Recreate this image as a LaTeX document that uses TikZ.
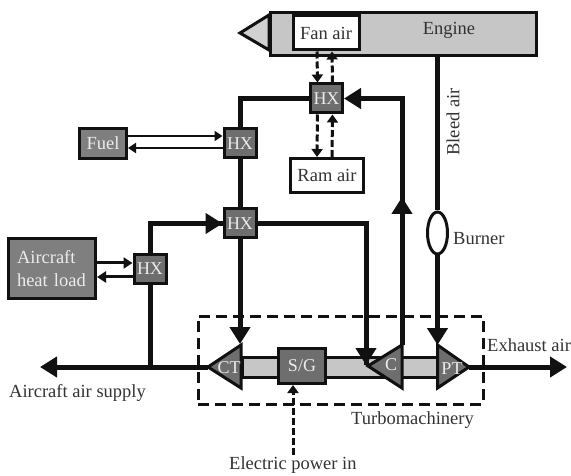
\documentclass[tikz,border=0pt]{standalone}
\usepackage{fontspec}
\setmainfont{Liberation Serif}
\usetikzlibrary{arrows.meta,calc,shapes.geometric}
\definecolor{ink}{HTML}{111111}
\definecolor{txt}{HTML}{333333}
\definecolor{hxgray}{HTML}{6E6E6E}
\definecolor{boxgray}{HTML}{7F7F7F}
\definecolor{lightgray}{HTML}{C6C6C6}
\tikzset{
  hxbox/.style={draw=ink,line width=3pt,fill=hxgray,text=white!92!black,minimum width=32pt,minimum height=29pt,inner sep=0pt,outer sep=1.5pt,font=\fontsize{18}{20}\selectfont},
  graybox/.style={draw=ink,line width=3pt,fill=boxgray,text=white!92!black,inner sep=0pt,outer sep=1.5pt,font=\fontsize{18.5}{23}\selectfont,align=left},
  whitebox/.style={draw=ink,line width=3pt,fill=white,text=txt,inner sep=0pt,outer sep=1.5pt,font=\fontsize{18.5}{20}\selectfont},
  lbl/.style={text=txt,inner sep=0pt,font=\fontsize{18.5}{20}\selectfont},
  tlbl/.style={text=white!92!black,inner sep=0pt,font=\fontsize{18}{20}\selectfont},
  turb/.style={draw=ink,line width=3pt,fill=hxgray,line join=miter},
  heavy/.style={draw=ink,line width=5pt},
  heavyarrow/.style={heavy,-{Triangle[length=17pt,width=20pt]}},
  medarrow/.style={draw=ink,line width=3pt,-{Triangle[length=9pt,width=11pt]}},
  thinarrow/.style={draw=ink,line width=2.2pt,-{Triangle[length=8pt,width=10pt]}},
  dasharrow/.style={draw=ink,line width=3pt,dash pattern=on 7pt off 3pt,-{Triangle[length=8pt,width=11pt]}},
}
\begin{document}
\begin{tikzpicture}[x=1pt,y=-1pt]
\useasboundingbox (0,0) rectangle (571,476);
% engine
\node[draw=ink,line width=3pt,fill=lightgray,minimum width=266pt,minimum height=43pt,inner sep=0pt,outer sep=1.5pt,anchor=north west] (engine) at (269,11) {};
\draw[draw=ink,line width=3pt,fill=lightgray!80!white] (269,15) -- (240,33) -- (269,50) -- cycle;
\node[whitebox,minimum width=66pt,minimum height=34pt] (fan) at (326,33) {Fan air};
\node[lbl] (enginelabel) at (449,30) {Engine};
% boxes
\node[hxbox] (hxa) at (326.5,98.5) {HX};
\node[hxbox] (hxb) at (240,143.5) {HX};
\node[hxbox] (hxc) at (240,223.5) {HX};
\node[hxbox] (hxd) at (150,269) {HX};
\node[graybox,minimum width=47pt,minimum height=30pt,align=center] (fuel) at (103,143.5) {Fuel};
\node[graybox,minimum width=87pt,minimum height=60pt,align=left,text width=70pt] (load) at (52,268.5) {Aircraft\\heat load};
\node[whitebox,minimum width=73pt,minimum height=34pt] (ram) at (327,175.5) {Ram air};
% turbomachinery enclosure
\node[draw=ink,line width=3pt,dash pattern=on 11pt off 6pt,minimum width=285pt,minimum height=88pt,inner sep=0pt] (turbo) at (340.5,360) {};
% shaft
\node[draw=ink,line width=3pt,fill=lightgray,minimum width=195pt,minimum height=20pt,inner sep=0pt] (shaft) at (339.5,367) {};
\node[hxbox,minimum width=47pt,minimum height=35pt] (sg) at (302,366) {S/G};
% turbomachinery coordinates
\coordinate (cttop) at (241,345);
\coordinate (ctapex) at (208,367);
\coordinate (ctbot) at (241,388);
\coordinate (ctop) at (402,345);
\coordinate (capex) at (368,366);
\coordinate (cbot) at (402,388);
\coordinate (ptop) at (437.5,345);
\coordinate (papex) at (469,367);
\coordinate (pbot) at (437.5,388);
\coordinate (supply) at (40,367);
\coordinate (exhaust) at (567,367);
\coordinate (cin) at (366,365);
\coordinate (elec) at (293,455);
\coordinate (knee) at (240,98.5);
\coordinate (kneeb) at (402,98.5);
\coordinate (kneec) at (150,223.5);
\coordinate (kneed) at (366,223.5);
\coordinate (mid) at (402,197);
\coordinate (ctin) at (240,344);
% heavy lines
\draw[heavy,line join=miter] (hxa.west) -- (knee) -- (hxb.north);
\draw[heavy] (hxb.south) -- (hxc.north);
\draw[heavyarrow,line join=miter] (ctop) -- (kneeb) -- (hxa.east);
\draw[heavyarrow] (ctop) -- (mid);
\draw[heavy,line join=miter] (hxd.north) -- (kneec) -- (hxc.west);
\draw[heavyarrow] (kneec) -- (hxc.west);
\draw[heavyarrow] (hxc.south) -- (ctin);
\draw[heavy,line join=miter] (hxc.east) -- (kneed) -- (cin);
\draw[heavyarrow] (ctapex) -- (supply);
\draw[heavy] (hxd.south) -- (150,367);
\draw[heavyarrow] (papex) -- (exhaust);
% burner
\node[draw=ink,line width=3pt,fill=white,ellipse,minimum width=20pt,minimum height=42pt,inner sep=0pt,outer sep=1.5pt] (burner) at (437.5,233) {};
\draw[heavy] (engine.south -| burner.north) -- (burner.north);
\draw[heavyarrow] (burner.south) -- (ptop);
% turbo shapes
\draw[turb] (cttop) -- (ctapex) -- (ctbot) -- cycle;
\draw[turb] (ctop) -- (capex) -- (cbot) -- cycle;
\draw[turb] (ptop) -- (papex) -- (pbot) -- cycle;
\draw[heavyarrow] ($(kneed)+(0,100)$) -- (cin);
\node[tlbl] (ctl) at (229,368) {CT};
\node[tlbl] (cl) at (391,365) {C};
\node[tlbl] (ptl) at (452,369) {PT};
% dashed
\draw[dasharrow] ([xshift=-9pt]fan.south) -- ([xshift=-9pt]hxa.north);
\draw[dasharrow] ([xshift=6pt]hxa.north) -- ([xshift=6pt]fan.south);
\draw[dasharrow] ([xshift=-9pt]hxa.south) -- ([xshift=-10pt]ram.north);
\draw[dasharrow] ([xshift=5pt]ram.north) -- ([xshift=6pt]hxa.south);
\draw[dasharrow] (elec) -- (elec |- sg.south);
% thin
\draw[thinarrow] ([yshift=7.5pt]fuel.east) -- ([yshift=7.5pt]hxb.west);
\draw[thinarrow] ([yshift=-4.5pt]hxb.west) -- ([yshift=-4.5pt]fuel.east);
\draw[medarrow] ([yshift=6pt]load.east |- hxd.west) -- ([yshift=6pt]hxd.west);
\draw[medarrow] ([yshift=-8pt]hxd.west) -- ([yshift=-8pt]load.east |- hxd.west);
% labels
\node[lbl,rotate=90] (bleed) at (453,122) {Bleed air};
\node[lbl,anchor=west] (burnerl) at (453,239) {Burner};
\node[lbl,anchor=west] (exl) at (487,345) {Exhaust air};
\node[lbl,anchor=west] (sup) at (9,393) {Aircraft air supply};
\node[lbl,anchor=west] (tm) at (351,420) {Turbomachinery};
\node[lbl,anchor=west] (ep) at (229,465) {Electric power in};
\end{tikzpicture}
\end{document}
